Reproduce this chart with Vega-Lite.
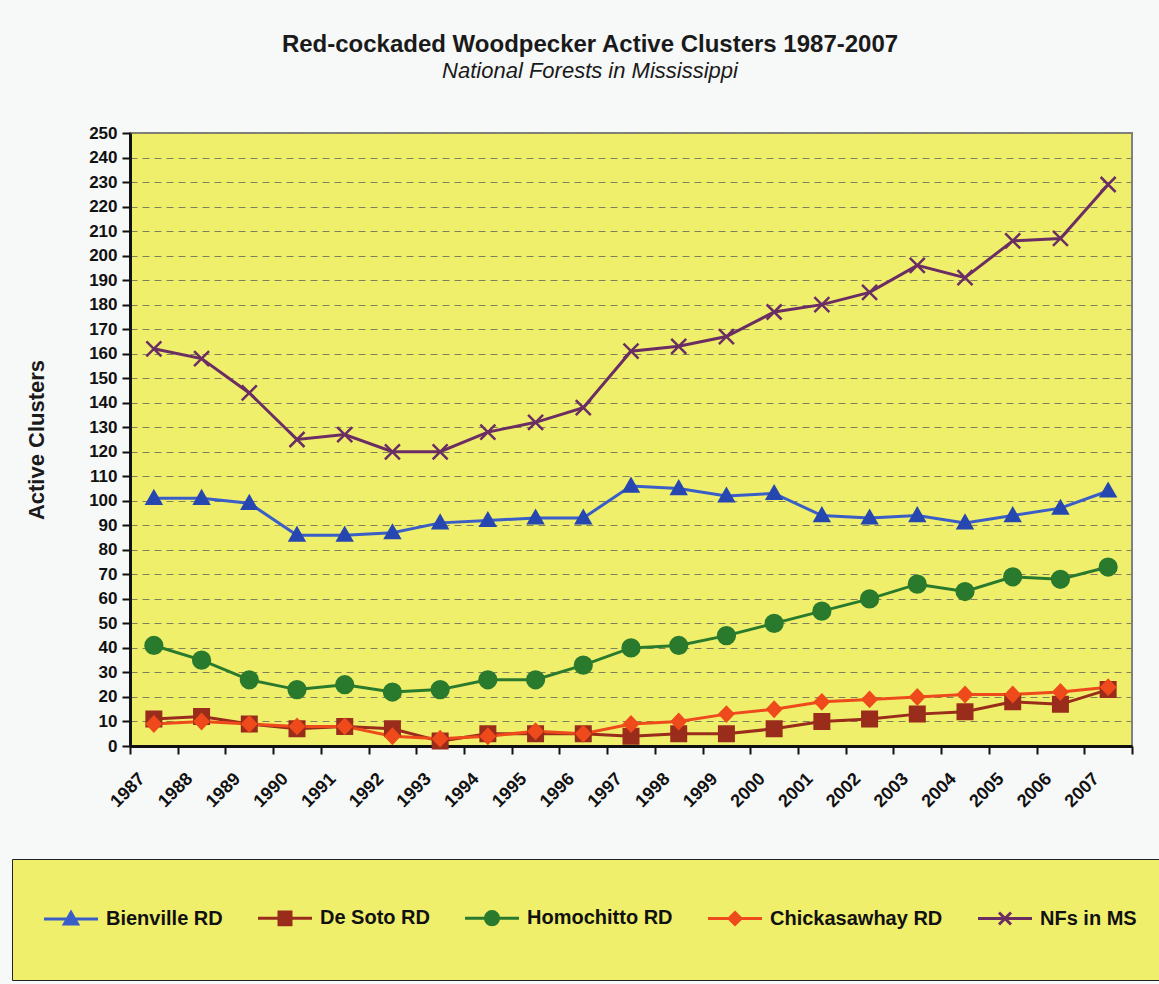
{
  "$schema": "https://vega.github.io/schema/vega-lite/v6.json",
  "autosize": {"type": "none"},
  "width": 1002,
  "height": 613,
  "padding": {"left": 130, "top": 133, "right": 27, "bottom": 238},
  "background": "#f7f8f8",
  "title": {
    "text": "Red-cockaded Woodpecker Active Clusters 1987-2007",
    "subtitle": "National Forests in Mississippi",
    "anchor": "middle",
    "dx": -41,
    "offset": 42,
    "font": "Liberation Sans",
    "fontSize": 24,
    "fontWeight": "bold",
    "color": "#1a1a1a",
    "subtitleFont": "Liberation Sans",
    "subtitleFontSize": 22,
    "subtitleFontStyle": "italic",
    "subtitleColor": "#1a1a1a",
    "subtitlePadding": 4
  },
  "datasets": {
    "clusters": [
      {"year": "1987", "series": "Bienville RD", "clusters": 101},
      {"year": "1988", "series": "Bienville RD", "clusters": 101},
      {"year": "1989", "series": "Bienville RD", "clusters": 99},
      {"year": "1990", "series": "Bienville RD", "clusters": 86},
      {"year": "1991", "series": "Bienville RD", "clusters": 86},
      {"year": "1992", "series": "Bienville RD", "clusters": 87},
      {"year": "1993", "series": "Bienville RD", "clusters": 91},
      {"year": "1994", "series": "Bienville RD", "clusters": 92},
      {"year": "1995", "series": "Bienville RD", "clusters": 93},
      {"year": "1996", "series": "Bienville RD", "clusters": 93},
      {"year": "1997", "series": "Bienville RD", "clusters": 106},
      {"year": "1998", "series": "Bienville RD", "clusters": 105},
      {"year": "1999", "series": "Bienville RD", "clusters": 102},
      {"year": "2000", "series": "Bienville RD", "clusters": 103},
      {"year": "2001", "series": "Bienville RD", "clusters": 94},
      {"year": "2002", "series": "Bienville RD", "clusters": 93},
      {"year": "2003", "series": "Bienville RD", "clusters": 94},
      {"year": "2004", "series": "Bienville RD", "clusters": 91},
      {"year": "2005", "series": "Bienville RD", "clusters": 94},
      {"year": "2006", "series": "Bienville RD", "clusters": 97},
      {"year": "2007", "series": "Bienville RD", "clusters": 104},
      {"year": "1987", "series": "De Soto RD", "clusters": 11},
      {"year": "1988", "series": "De Soto RD", "clusters": 12},
      {"year": "1989", "series": "De Soto RD", "clusters": 9},
      {"year": "1990", "series": "De Soto RD", "clusters": 7},
      {"year": "1991", "series": "De Soto RD", "clusters": 8},
      {"year": "1992", "series": "De Soto RD", "clusters": 7},
      {"year": "1993", "series": "De Soto RD", "clusters": 2},
      {"year": "1994", "series": "De Soto RD", "clusters": 5},
      {"year": "1995", "series": "De Soto RD", "clusters": 5},
      {"year": "1996", "series": "De Soto RD", "clusters": 5},
      {"year": "1997", "series": "De Soto RD", "clusters": 4},
      {"year": "1998", "series": "De Soto RD", "clusters": 5},
      {"year": "1999", "series": "De Soto RD", "clusters": 5},
      {"year": "2000", "series": "De Soto RD", "clusters": 7},
      {"year": "2001", "series": "De Soto RD", "clusters": 10},
      {"year": "2002", "series": "De Soto RD", "clusters": 11},
      {"year": "2003", "series": "De Soto RD", "clusters": 13},
      {"year": "2004", "series": "De Soto RD", "clusters": 14},
      {"year": "2005", "series": "De Soto RD", "clusters": 18},
      {"year": "2006", "series": "De Soto RD", "clusters": 17},
      {"year": "2007", "series": "De Soto RD", "clusters": 23},
      {"year": "1987", "series": "Homochitto RD", "clusters": 41},
      {"year": "1988", "series": "Homochitto RD", "clusters": 35},
      {"year": "1989", "series": "Homochitto RD", "clusters": 27},
      {"year": "1990", "series": "Homochitto RD", "clusters": 23},
      {"year": "1991", "series": "Homochitto RD", "clusters": 25},
      {"year": "1992", "series": "Homochitto RD", "clusters": 22},
      {"year": "1993", "series": "Homochitto RD", "clusters": 23},
      {"year": "1994", "series": "Homochitto RD", "clusters": 27},
      {"year": "1995", "series": "Homochitto RD", "clusters": 27},
      {"year": "1996", "series": "Homochitto RD", "clusters": 33},
      {"year": "1997", "series": "Homochitto RD", "clusters": 40},
      {"year": "1998", "series": "Homochitto RD", "clusters": 41},
      {"year": "1999", "series": "Homochitto RD", "clusters": 45},
      {"year": "2000", "series": "Homochitto RD", "clusters": 50},
      {"year": "2001", "series": "Homochitto RD", "clusters": 55},
      {"year": "2002", "series": "Homochitto RD", "clusters": 60},
      {"year": "2003", "series": "Homochitto RD", "clusters": 66},
      {"year": "2004", "series": "Homochitto RD", "clusters": 63},
      {"year": "2005", "series": "Homochitto RD", "clusters": 69},
      {"year": "2006", "series": "Homochitto RD", "clusters": 68},
      {"year": "2007", "series": "Homochitto RD", "clusters": 73},
      {"year": "1987", "series": "Chickasawhay RD", "clusters": 9},
      {"year": "1988", "series": "Chickasawhay RD", "clusters": 10},
      {"year": "1989", "series": "Chickasawhay RD", "clusters": 9},
      {"year": "1990", "series": "Chickasawhay RD", "clusters": 8},
      {"year": "1991", "series": "Chickasawhay RD", "clusters": 8},
      {"year": "1992", "series": "Chickasawhay RD", "clusters": 4},
      {"year": "1993", "series": "Chickasawhay RD", "clusters": 3},
      {"year": "1994", "series": "Chickasawhay RD", "clusters": 4},
      {"year": "1995", "series": "Chickasawhay RD", "clusters": 6},
      {"year": "1996", "series": "Chickasawhay RD", "clusters": 5},
      {"year": "1997", "series": "Chickasawhay RD", "clusters": 9},
      {"year": "1998", "series": "Chickasawhay RD", "clusters": 10},
      {"year": "1999", "series": "Chickasawhay RD", "clusters": 13},
      {"year": "2000", "series": "Chickasawhay RD", "clusters": 15},
      {"year": "2001", "series": "Chickasawhay RD", "clusters": 18},
      {"year": "2002", "series": "Chickasawhay RD", "clusters": 19},
      {"year": "2003", "series": "Chickasawhay RD", "clusters": 20},
      {"year": "2004", "series": "Chickasawhay RD", "clusters": 21},
      {"year": "2005", "series": "Chickasawhay RD", "clusters": 21},
      {"year": "2006", "series": "Chickasawhay RD", "clusters": 22},
      {"year": "2007", "series": "Chickasawhay RD", "clusters": 24},
      {"year": "1987", "series": "NFs in MS", "clusters": 162},
      {"year": "1988", "series": "NFs in MS", "clusters": 158},
      {"year": "1989", "series": "NFs in MS", "clusters": 144},
      {"year": "1990", "series": "NFs in MS", "clusters": 125},
      {"year": "1991", "series": "NFs in MS", "clusters": 127},
      {"year": "1992", "series": "NFs in MS", "clusters": 120},
      {"year": "1993", "series": "NFs in MS", "clusters": 120},
      {"year": "1994", "series": "NFs in MS", "clusters": 128},
      {"year": "1995", "series": "NFs in MS", "clusters": 132},
      {"year": "1996", "series": "NFs in MS", "clusters": 138},
      {"year": "1997", "series": "NFs in MS", "clusters": 161},
      {"year": "1998", "series": "NFs in MS", "clusters": 163},
      {"year": "1999", "series": "NFs in MS", "clusters": 167},
      {"year": "2000", "series": "NFs in MS", "clusters": 177},
      {"year": "2001", "series": "NFs in MS", "clusters": 180},
      {"year": "2002", "series": "NFs in MS", "clusters": 185},
      {"year": "2003", "series": "NFs in MS", "clusters": 196},
      {"year": "2004", "series": "NFs in MS", "clusters": 191},
      {"year": "2005", "series": "NFs in MS", "clusters": 206},
      {"year": "2006", "series": "NFs in MS", "clusters": 207},
      {"year": "2007", "series": "NFs in MS", "clusters": 229}
    ]
  },
  "data": {"name": "clusters"},
  "encoding": {
    "x": {
      "field": "year",
      "type": "ordinal",
      "scale": {"type": "band", "paddingInner": 0, "paddingOuter": 0},
      "axis": {
        "title": null,
        "labelAngle": -45,
        "labelAlign": "right",
        "labelBaseline": "middle",
        "labelOffset": -12,
        "labelPadding": 22,
        "labelFont": "Liberation Sans",
        "labelFontSize": 18,
        "labelFontWeight": "bold",
        "labelColor": "#111111",
        "labelOverlap": false,
        "labelBound": false,
        "tickBand": "extent",
        "tickSize": 8,
        "tickWidth": 2,
        "tickColor": "#111111",
        "domainColor": "#111111",
        "domainWidth": 3,
        "grid": false
      }
    },
    "y": {
      "field": "clusters",
      "type": "quantitative",
      "scale": {"domain": [0, 250], "nice": false},
      "axis": {
        "title": "Active Clusters",
        "titleFont": "Liberation Sans",
        "titleFontSize": 22,
        "titleFontWeight": "bold",
        "titleColor": "#1a1a1a",
        "titlePadding": 40,
        "values": [0, 10, 20, 30, 40, 50, 60, 70, 80, 90, 100, 110, 120, 130, 140, 150, 160, 170, 180, 190, 200, 210, 220, 230, 240, 250],
        "labelFont": "Liberation Sans",
        "labelFontSize": 17,
        "labelFontWeight": "bold",
        "labelColor": "#111111",
        "labelPadding": 5,
        "labelOverlap": false,
        "tickSize": 8,
        "tickWidth": 2,
        "tickColor": "#111111",
        "domainColor": "#111111",
        "domainWidth": 3,
        "grid": true,
        "gridColor": "#80805a",
        "gridWidth": 1,
        "gridDash": [7, 5]
      }
    },
    "color": {
      "field": "series",
      "type": "nominal",
      "scale": {
        "domain": ["Bienville RD", "De Soto RD", "Homochitto RD", "Chickasawhay RD", "NFs in MS"],
        "range": ["#3a5ec8", "#9a2c1c", "#2a7a2e", "#ee4a1b", "#6b2e63"]
      },
      "legend": {
        "orient": "none",
        "legendX": -118,
        "legendY": 726,
        "direction": "horizontal",
        "title": null,
        "fillColor": "#efef6c",
        "strokeColor": "#222222",
        "padding": 49,
        "symbolSize": 144,
        "symbolStrokeWidth": 3,
        "symbolOpacity": 1,
        "labelFont": "Liberation Sans",
        "labelFontSize": 20,
        "labelFontWeight": "bold",
        "labelColor": "#111111",
        "labelOffset": 25,
        "labelLimit": 0,
        "columnPadding": 29,
        "encode": {
          "symbols": {
            "update": {
              "shape": {"signal": "scale('shape', datum.value)"},
              "fill": {"scale": "color", "field": "value"},
              "stroke": {"scale": "color", "field": "value"},
              "strokeWidth": {"value": 3},
              "opacity": {"value": 1}
            }
          }
        }
      }
    }
  },
  "layer": [
    {"mark": {"type": "line", "strokeWidth": 3}},
    {
      "description": "Key swatches only: a short line through each series marker, kept transparent in the plot.",
      "mark": {"type": "point", "filled": false, "strokeWidth": 3, "opacity": 0, "size": 144},
      "encoding": {
        "shape": {
          "field": "series",
          "type": "nominal",
          "scale": {
            "domain": ["Bienville RD", "De Soto RD", "Homochitto RD", "Chickasawhay RD", "NFs in MS"],
            "range": [
              "M-4.5,0L4.5,0M0,-1.1L1.1,0.8L-1.1,0.8Z",
              "M-4.5,0L4.5,0M-1,-1.05H1V1.05H-1Z",
              "M-4.5,0L4.5,0M-1.1,0A1.1,1.1,0,1,0,1.1,0A1.1,1.1,0,1,0,-1.1,0Z",
              "M-4.5,0L4.5,0M0,-1L1,0L0,1L-1,0Z",
              "M-4.5,0L4.5,0M-1,-1L1,1M-1,1L1,-1"
            ]
          },
          "legend": null
        },
        "fill": {
          "field": "series",
          "type": "nominal",
          "scale": {
            "domain": ["Bienville RD", "De Soto RD", "Homochitto RD", "Chickasawhay RD", "NFs in MS"],
            "range": ["#2747b0", "#9a2c1c", "#2a7a2e", "#ee4a1b", "#6b2e63"]
          },
          "legend": null
        }
      }
    },
    {
      "transform": [{"filter": {"field": "series", "equal": "Bienville RD"}}],
      "mark": {"type": "point", "filled": true, "shape": "M0,-1L1,0.75L-1,0.75Z", "stroke": "#2747b0", "fill": "#2747b0", "strokeWidth": 2, "opacity": 1, "size": 225}
    },
    {
      "transform": [{"filter": {"field": "series", "equal": "De Soto RD"}}],
      "mark": {"type": "point", "filled": true, "shape": "M-1,-1H1V1H-1Z", "stroke": "#9a2c1c", "fill": "#9a2c1c", "strokeWidth": 2, "opacity": 1, "size": 225}
    },
    {
      "transform": [{"filter": {"field": "series", "equal": "Homochitto RD"}}],
      "mark": {"type": "point", "filled": true, "shape": "M-1.15,0A1.15,1.15,0,1,0,1.15,0A1.15,1.15,0,1,0,-1.15,0Z", "stroke": "#2a7a2e", "fill": "#2a7a2e", "strokeWidth": 2, "opacity": 1, "size": 225}
    },
    {
      "transform": [{"filter": {"field": "series", "equal": "Chickasawhay RD"}}],
      "mark": {"type": "point", "filled": true, "shape": "M0,-1L0.95,0L0,1L-0.95,0Z", "stroke": "#ee4a1b", "fill": "#ee4a1b", "strokeWidth": 2, "opacity": 1, "size": 225}
    },
    {
      "transform": [{"filter": {"field": "series", "equal": "NFs in MS"}}],
      "mark": {"type": "point", "filled": false, "shape": "M-1,-1L1,1M-1,1L1,-1", "stroke": "#6b2e63", "strokeWidth": 2.5, "opacity": 1, "size": 225}
    }
  ],
  "config": {
    "view": {"fill": "#efef6c", "stroke": "#808080", "strokeWidth": 2}
  }
}
